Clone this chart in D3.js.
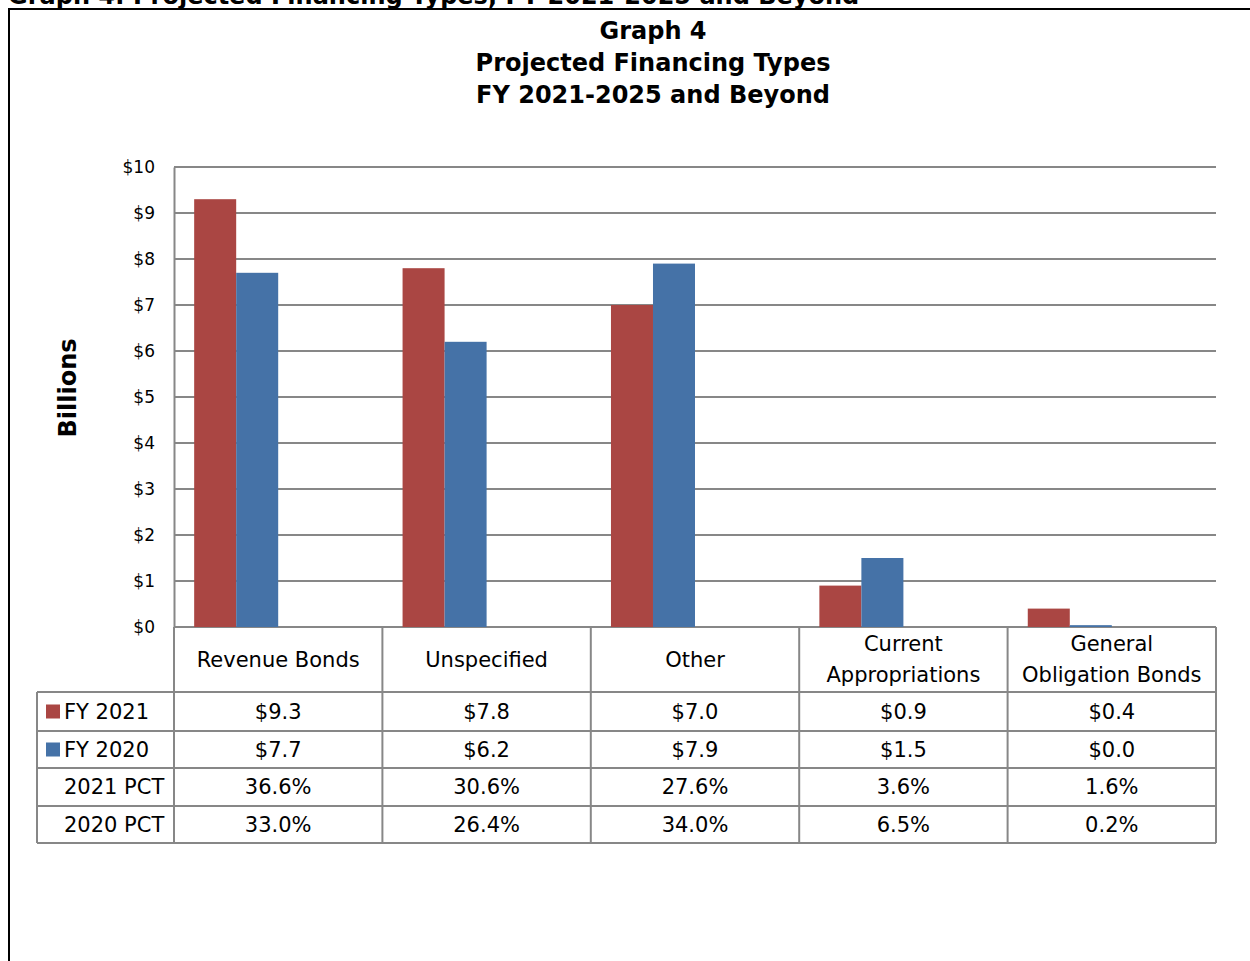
<!DOCTYPE html>
<html>
<head>
<meta charset="utf-8">
<script src="https://cdn.jsdelivr.net/npm/d3@7"></script>
<style>
  body { margin: 0; background: #fff; }
  text { font-family: "DejaVu Sans", sans-serif; }
</style>
</head>
<body>
<div id="chart"></div>
<script>
const width = 1250;
const height = 961;

// data
const categories = ["Revenue Bonds", "Unspecified", "Other", "Current Appropriations", "General Obligation Bonds"];
const categoryLines = [["Revenue Bonds"], ["Unspecified"], ["Other"], ["Current", "Appropriations"], ["General", "Obligation Bonds"]];
const seriesNames = ["FY 2021", "FY 2020"];
const fy2021 = [9.3, 7.8, 7.0, 0.9, 0.4];
const fy2020 = [7.7, 6.2, 7.9, 1.5, 0.04];
const pct2021 = ["36.6%", "30.6%", "27.6%", "3.6%", "1.6%"];
const pct2020 = ["33.0%", "26.4%", "34.0%", "6.5%", "0.2%"];
const yTicks = [0, 1, 2, 3, 4, 5, 6, 7, 8, 9, 10];
const colors = ["#AA4643", "#4572A7"];

const plot = { left: 174, right: 1216, top: 167, bottom: 627 };
const gridColor = "#878787";

const svg = d3.select("#chart").append("svg")
    .attr("width", width)
    .attr("height", height);

// heading above the frame, cut off by the page top as in the source
svg.append("text")
    .attr("x", 8)
    .attr("y", 4)
    .attr("font-size", 24)
    .attr("font-weight", "bold")
    .text("Graph 4: Projected Financing Types, FY 2021-2025 and Beyond");

// frame
svg.append("path")
    .attr("d", `M9,${height} V9 H${width}`)
    .attr("fill", "none")
    .attr("stroke", "#000")
    .attr("stroke-width", 2);

// title
const titleLines = ["Graph 4", "Projected Financing Types", "FY 2021-2025 and Beyond"];
svg.append("g").selectAll("text")
    .data(titleLines)
    .join("text")
    .attr("x", 653)
    .attr("y", (d, i) => 39 + i * 32)
    .attr("text-anchor", "middle")
    .attr("font-size", 24)
    .attr("font-weight", "bold")
    .text(d => d);

const xScale = d3.scaleBand()
    .domain(categories)
    .range([plot.left, plot.right])
    .padding(0);

// bar pair sits in the left half of each column, ending at its centre
const xInner = d3.scaleBand()
    .domain(seriesNames)
    .range([0, xScale.bandwidth() / 2])
    .paddingInner(0)
    .paddingOuter(0.24)
    .align(1);

const yScale = d3.scaleLinear()
    .domain([0, 10])
    .range([plot.bottom, plot.top]);

// gridlines
svg.append("g").selectAll("line")
    .data(yTicks)
    .join("line")
    .attr("x1", plot.left)
    .attr("x2", plot.right)
    .attr("y1", d => yScale(d))
    .attr("y2", d => yScale(d))
    .attr("stroke", gridColor)
    .attr("stroke-width", 2);

// y axis
const yAxis = d3.axisLeft(yScale).tickValues(yTicks).tickFormat(d => "$" + d).tickSize(0).tickPadding(19);
const yG = svg.append("g")
    .attr("transform", `translate(${plot.left},0)`)
    .call(yAxis);
yG.select(".domain").attr("stroke", gridColor).attr("stroke-width", 2);
yG.selectAll("text")
    .attr("font-family", "DejaVu Sans, sans-serif")
    .attr("font-size", 17)
    .attr("fill", "#000");

svg.append("text")
    .attr("transform", "translate(76,388) rotate(-90)")
    .attr("text-anchor", "middle")
    .attr("font-size", 24)
    .attr("font-weight", "bold")
    .text("Billions");

// bars
const series = [fy2021, fy2020];
series.forEach((vals, si) => {
    svg.append("g").selectAll("rect")
        .data(vals)
        .join("rect")
        .attr("x", (d, i) => xScale(categories[i]) + xInner(seriesNames[si]))
        .attr("width", xInner.bandwidth())
        .attr("y", d => yScale(d))
        .attr("height", d => yScale(0) - yScale(d))
        .attr("fill", colors[si]);
});

// data table
const tableLeft = 37;
const headerBottom = 692;
const rowEdges = [692, 731, 768, 806, 843];
const rowLabels = ["FY 2021", "FY 2020", "2021 PCT", "2020 PCT"];
const rowValues = [
    fy2021.map(d => "$" + d.toFixed(1)),
    fy2020.map(d => "$" + d.toFixed(1)),
    pct2021,
    pct2020
];

const table = svg.append("g");
const colEdges = categories.map(c => xScale(c)).concat([plot.right]);

// vertical lines
table.selectAll(".vline")
    .data(colEdges)
    .join("line")
    .attr("x1", d => d)
    .attr("x2", d => d)
    .attr("y1", plot.bottom)
    .attr("y2", rowEdges[rowEdges.length - 1])
    .attr("stroke", gridColor)
    .attr("stroke-width", 2);
table.append("line")
    .attr("x1", tableLeft).attr("x2", tableLeft)
    .attr("y1", rowEdges[0]).attr("y2", rowEdges[rowEdges.length - 1])
    .attr("stroke", gridColor).attr("stroke-width", 2);

// horizontal lines
table.selectAll(".hline")
    .data(rowEdges)
    .join("line")
    .attr("x1", tableLeft)
    .attr("x2", plot.right)
    .attr("y1", d => d)
    .attr("y2", d => d)
    .attr("stroke", gridColor)
    .attr("stroke-width", 2);

// header labels
categories.forEach((c, i) => {
    const lines = categoryLines[i];
    const cx = xScale(c) + xScale.bandwidth() / 2;
    const mid = (plot.bottom + headerBottom) / 2;
    lines.forEach((ln, j) => {
        table.append("text")
            .attr("x", cx)
            .attr("y", mid + (j - (lines.length - 1) / 2) * 31)
            .attr("dy", "0.35em")
            .attr("text-anchor", "middle")
            .attr("font-size", 21)
            .text(ln);
    });
});

// rows
rowLabels.forEach((lbl, r) => {
    const cy = (rowEdges[r] + rowEdges[r + 1]) / 2;
    table.append("text")
        .attr("x", 64)
        .attr("y", cy)
        .attr("dy", "0.35em")
        .attr("font-size", 21)
        .text(lbl);
    if (r < 2) {
        table.append("rect")
            .attr("x", 46)
            .attr("y", cy - 7)
            .attr("width", 14)
            .attr("height", 14)
            .attr("fill", colors[r]);
    }
    rowValues[r].forEach((v, i) => {
        table.append("text")
            .attr("x", xScale(categories[i]) + xScale.bandwidth() / 2)
            .attr("y", cy)
            .attr("dy", "0.35em")
            .attr("text-anchor", "middle")
            .attr("font-size", 21)
            .text(v);
    });
});
</script>
</body>
</html>
